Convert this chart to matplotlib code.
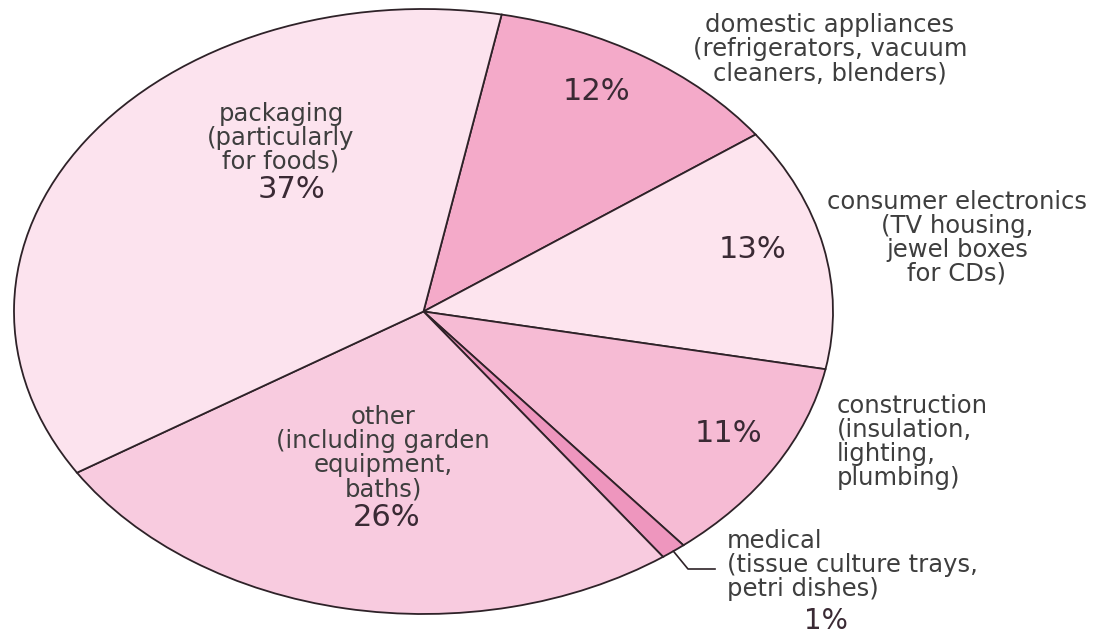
import matplotlib
matplotlib.use("Agg")
import matplotlib.pyplot as plt
import numpy as np

# ---------------- data ----------------
categories = ["domestic appliances", "consumer electronics", "construction",
              "medical", "other", "packaging"]
descriptions = [
    "domestic appliances\n(refrigerators, vacuum\ncleaners, blenders)",
    "consumer electronics\n(TV housing,\njewel boxes\nfor CDs)",
    "construction\n(insulation,\nlighting,\nplumbing)",
    "medical\n(tissue culture trays,\npetri dishes)",
    "other\n(including garden\nequipment,\nbaths)",
    "packaging\n(particularly\nfor foods)",
]
shares = [12, 13, 11, 1, 26, 37]
colors = ["#f4aac9", "#fde4ee", "#f6bbd4", "#ee96be", "#f8cbdf", "#fce3ee"]

# ---------------- layout helpers ----------------
W, H = 1098, 633
CX, CY, RX, RY = 423.5, 311.5, 409.5, 302.5   # ellipse centre / radii in pixels


def px(x, y):
    """pixel position (from top-left) -> data coordinates of the pie axes"""
    return (x - CX) / RX, (CY - y) / RY


fig = plt.figure(figsize=(W / 100, H / 100), dpi=100)
fig.patch.set_facecolor("white")
ax = fig.add_axes([0, 0, 1, 1])

wedges, _ = ax.pie(
    shares, colors=colors, startangle=79, counterclock=False, radius=1,
    wedgeprops=dict(edgecolor="#2e2228", linewidth=1.3, antialiased=True),
)
ax.set_aspect("auto")
ax.set_xlim((0 - CX) / RX, (W - CX) / RX)
ax.set_ylim((CY - H) / RY, CY / RY)
ax.axis("off")

LABEL_FONT = dict(family="DejaVu Sans", fontsize=17.5, color="#3e3e3e", linespacing=1.0)
PCT_FONT = dict(family="DejaVu Sans", fontsize=22, color="#3a2a34")

# description label positions (pixels) and alignment
label_pos = {
    "domestic appliances": ((830, 49), "center"),
    "consumer electronics": ((957, 238), "center"),
    "construction": ((837, 442), "left"),
    "medical": ((727, 565), "left"),
    "other": ((383, 453), "center"),
    "packaging": ((281, 138), "center"),
}
pct_pos = {
    "domestic appliances": (596, 92),
    "consumer electronics": (753, 250),
    "construction": (729, 433),
    "medical": (826, 621),
    "other": (387, 518),
    "packaging": (291, 189),
}

for cat, desc, val in zip(categories, descriptions, shares):
    (lx, ly), ha = label_pos[cat]
    ax.text(*px(lx, ly), desc, ha=ha, va="center", multialignment=ha, **LABEL_FONT)
    font = dict(PCT_FONT)
    if cat == "medical":
        font["fontsize"] = 20
    ax.text(*px(*pct_pos[cat]), f"{val}%", ha="center", va="center", **font)

# leader line for the thin "medical" slice
w = wedges[categories.index("medical")]
mid = np.deg2rad((w.theta1 + w.theta2) / 2)
sx, sy = np.cos(mid), np.sin(mid)
ex, ey = px(688, 569)
fx, fy = px(715, 569)
ax.plot([sx, ex, fx], [sy, ey, fy], color="#2e2228", linewidth=1.2)

fig.savefig("out.png", dpi=100, facecolor="white")
